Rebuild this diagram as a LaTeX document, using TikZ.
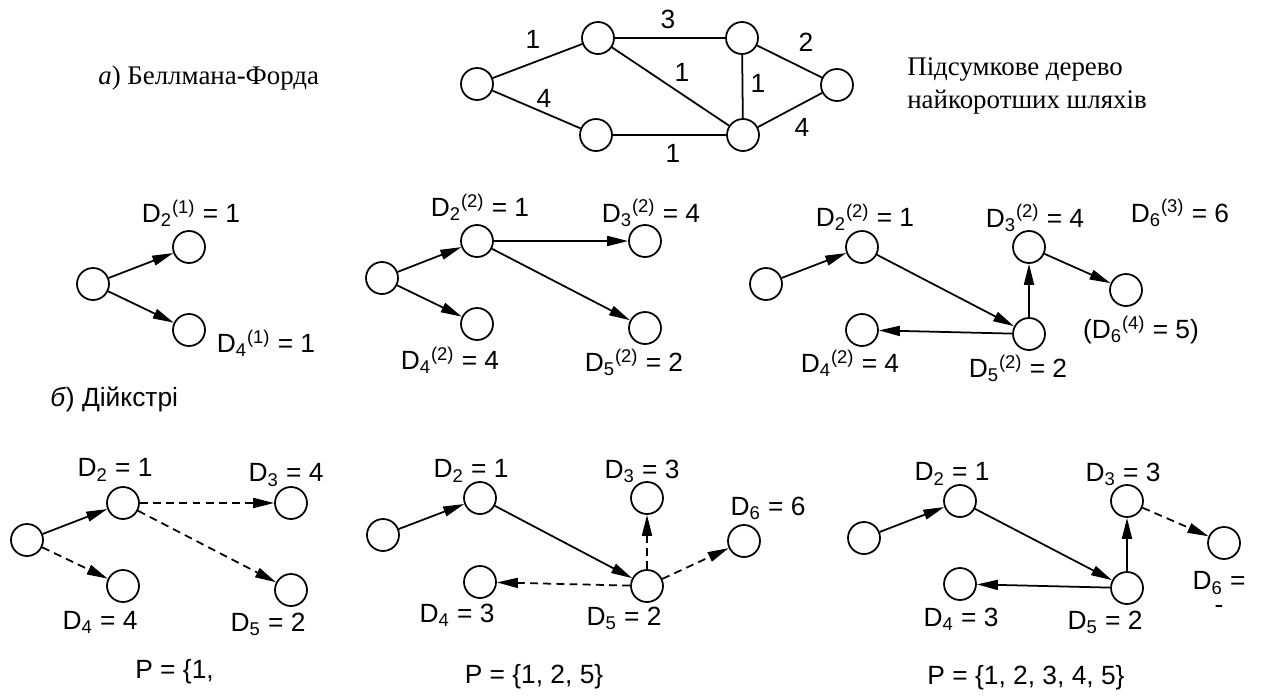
\documentclass[tikz,border=0pt]{standalone}
\usepackage{fontspec}
\setmainfont{Liberation Sans}
\newfontfamily\serifcyr{Liberation Serif}
\usetikzlibrary{arrows.meta}
\newcommand{\Dsb}[2]{D\textsubscript{#1}\textsuperscript{(#2)}}

\begin{document}
\begin{tikzpicture}[x=0.02cm, y=-0.02cm]
  \tikzset{vertex/.style={circle, draw, line width=1pt, minimum size=0.64cm, inner sep=0pt}}
  \tikzset{arc/.style={-{Triangle[length=4.2mm, width=2mm]}, line width=1pt}}
  \tikzset{tent arc/.style={arc, dash pattern=on 4.5pt off 3pt}}
  \tikzset{lbl/.style={font=\fontsize{15}{17}\selectfont, inner sep=0pt}}
  \tikzset{rlbl/.style={font=\serifcyr\fontsize{15.3}{19}\selectfont, inner sep=0pt, align=left}}

  \useasboundingbox (0,0) rectangle (1261,697);

  % graph
  \node[rlbl, anchor=west] (ttlA) at (98,78) {\textit{а}) Беллмана-Форда};
  \node[vertex] (g1) at (477,84) {};
  \node[vertex] (g2) at (598,38) {};
  \node[vertex] (g3) at (742,38) {};
  \node[vertex] (g4) at (596,135) {};
  \node[vertex] (g5) at (743,135) {};
  \node[vertex] (g6) at (837,85) {};
  \draw[line width=1pt] (g1) -- (g2) (g1) -- (g4) (g2) -- (g3) (g2) -- (g5)
    (g3) -- (g5) (g4) -- (g5) (g3) -- (g6) (g5) -- (g6);
  \node[lbl] (w12) at (533,39) {1};
  \node[lbl] (w14) at (544,98) {4};
  \node[lbl] (w23) at (668,19) {3};
  \node[lbl] (w25) at (682,72) {1};
  \node[lbl] (w35) at (758,83) {1};
  \node[lbl] (w45) at (673,153) {1};
  \node[lbl] (w36) at (806,42) {2};
  \node[lbl] (w56) at (802,127) {4};
  \node[rlbl, anchor=west] (tree) at (907,86) {Підсумкове дерево\\найкоротших шляхів};

  % Bellman-Ford, step 1
  \node[vertex] (a1) at (93,284) {};
  \node[vertex] (a2) at (189,247) {};
  \node[vertex] (a4) at (189,330) {};
  \draw[arc] (a1) -- (a2);
  \draw[arc] (a1) -- (a4);
  \node[lbl] (la2) at (191,213) {\Dsb{2}{1} = 1};
  \node[lbl] (la4) at (266,343) {\Dsb{4}{1} = 1};

  % Bellman-Ford, step 2
  \node[vertex] (b1) at (382,278) {};
  \node[vertex] (b2) at (477,241) {};
  \node[vertex] (b3) at (645,241) {};
  \node[vertex] (b4) at (477,324) {};
  \node[vertex] (b5) at (645,328) {};
  \draw[arc] (b1) -- (b2);
  \draw[arc] (b1) -- (b4);
  \draw[arc] (b2) -- (b3);
  \draw[arc] (b2) -- (b5);
  \node[lbl] (lb2) at (480,207) {\Dsb{2}{2} = 1};
  \node[lbl] (lb3) at (651,213) {\Dsb{3}{2} = 4};
  \node[lbl] (lb4) at (450,360) {\Dsb{4}{2} = 4};
  \node[lbl] (lb5) at (634,362) {\Dsb{5}{2} = 2};

  % Bellman-Ford, step 3
  \node[vertex] (c1) at (766,284) {};
  \node[vertex] (c2) at (862,247) {};
  \node[vertex] (c3) at (1029,247) {};
  \node[vertex] (c4) at (862,330) {};
  \node[vertex] (c5) at (1029,334) {};
  \node[vertex] (c6) at (1126,290) {};
  \draw[arc] (c1) -- (c2);
  \draw[arc] (c2) -- (c5);
  \draw[arc] (c5) -- (c3);
  \draw[arc] (c5) -- (c4);
  \draw[arc] (c3) -- (c6);
  \node[lbl] (lc2) at (865,217) {\Dsb{2}{2} = 1};
  \node[lbl] (lc3) at (1035,218) {\Dsb{3}{2} = 4};
  \node[lbl] (lc6) at (1180,213) {\Dsb{6}{3} = 6};
  \node[lbl] (lc4) at (850,363) {\Dsb{4}{2} = 4};
  \node[lbl] (lc5) at (1018,368) {\Dsb{5}{2} = 2};
  \node[lbl] (lc6b) at (1141,330) {(\Dsb{6}{4} = 5)};

  % Dijkstra
  \node[lbl, anchor=west] (ttlB) at (50,399) {\textit{б}) Дійкстрі};

  \node[vertex] (d1) at (27,540) {};
  \node[vertex] (d2) at (123,503) {};
  \node[vertex] (d3) at (291,503) {};
  \node[vertex] (d4) at (123,586) {};
  \node[vertex] (d5) at (291,590) {};
  \draw[arc] (d1) -- (d2);
  \draw[tent arc] (d1) -- (d4);
  \draw[tent arc] (d2) -- (d3);
  \draw[tent arc] (d2) -- (d5);
  \node[lbl] (ld2) at (115,470) {D\textsubscript{2} = 1};
  \node[lbl] (ld3) at (286,475) {D\textsubscript{3} = 4};
  \node[lbl] (ld4) at (100,622) {D\textsubscript{4} = 4};
  \node[lbl] (ld5) at (268,624) {D\textsubscript{5} = 2};
  \node[lbl, anchor=west] (pd) at (135,672) {P = \{1,};

  \node[vertex] (e1) at (383,535) {};
  \node[vertex] (e2) at (480,498) {};
  \node[vertex] (e3) at (647,498) {};
  \node[vertex] (e4) at (480,582) {};
  \node[vertex] (e5) at (647,586) {};
  \node[vertex] (e6) at (744,541) {};
  \draw[arc] (e1) -- (e2);
  \draw[arc] (e2) -- (e5);
  \draw[tent arc] (e5) -- (e3);
  \draw[tent arc] (e5) -- (e4);
  \draw[tent arc] (e5) -- (e6);
  \node[lbl] (le2) at (471,471) {D\textsubscript{2} = 1};
  \node[lbl] (le3) at (642,471) {D\textsubscript{3} = 3};
  \node[lbl] (le6) at (768,508) {D\textsubscript{6} = 6};
  \node[lbl] (le4) at (457,615) {D\textsubscript{4} = 3};
  \node[lbl] (le5) at (624,618) {D\textsubscript{5} = 2};
  \node[lbl] (pe) at (534,677) {P = \{1, 2, 5\}};

  \node[vertex] (f1) at (864,538) {};
  \node[vertex] (f2) at (960,501) {};
  \node[vertex] (f3) at (1127,501) {};
  \node[vertex] (f4) at (960,584) {};
  \node[vertex] (f5) at (1127,588) {};
  \node[vertex] (f6) at (1224,543) {};
  \draw[arc] (f1) -- (f2);
  \draw[arc] (f2) -- (f5);
  \draw[arc] (f5) -- (f3);
  \draw[arc] (f5) -- (f4);
  \draw[tent arc] (f3) -- (f6);
  \node[lbl] (lf6) at (1219,583) {D\textsubscript{6} =};
  \node[lbl, anchor=north] (lf6b) at ([yshift=-6pt]lf6.south) {-};
  \node[lbl] (lf2) at (952,474) {D\textsubscript{2} = 1};
  \node[lbl] (lf3) at (1123,474) {D\textsubscript{3} = 3};
  \node[lbl] (lf4) at (961,619) {D\textsubscript{4} = 3};
  \node[lbl] (lf5) at (1105,622) {D\textsubscript{5} = 2};
  \node[lbl] (pf) at (1026,678) {P = \{1, 2, 3, 4, 5\}};
\end{tikzpicture}
\end{document}
